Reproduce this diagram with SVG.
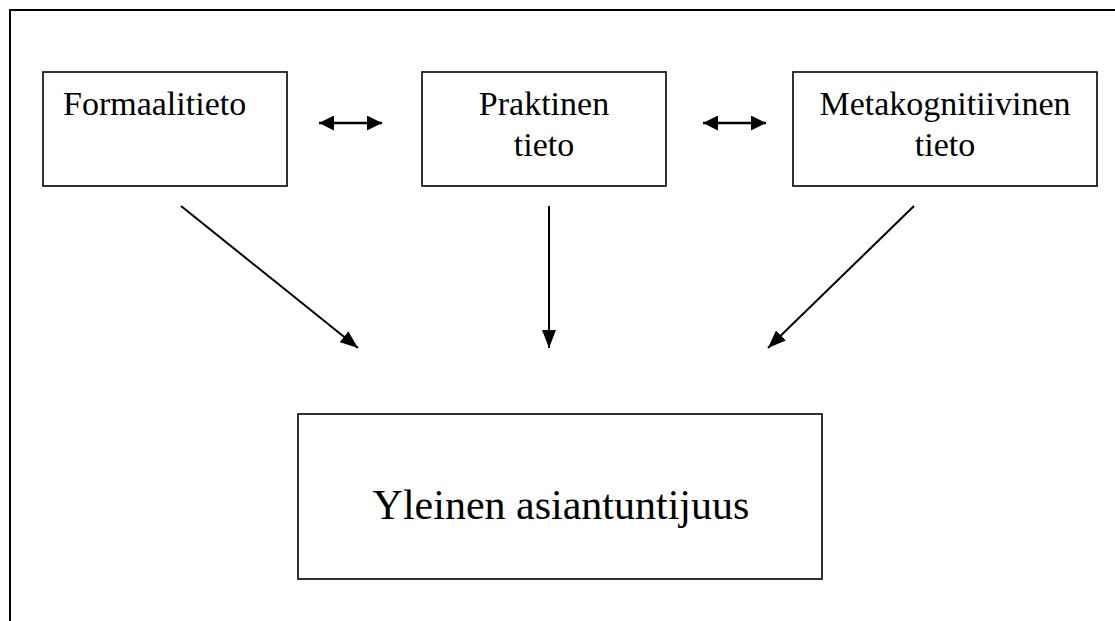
<svg xmlns="http://www.w3.org/2000/svg" width="1115" height="621" viewBox="0 0 1115 621">
  <style>
    .box { fill: #ffffff; stroke: #000000; stroke-width: 1.6; }
    .lbl { font-family: "Liberation Serif", "Times New Roman", serif; font-size: 34px; fill: #000000; }
    .big { font-family: "Liberation Serif", "Times New Roman", serif; font-size: 42px; fill: #000000; }
    .conn { stroke: #000000; stroke-width: 2; fill: none; }
    .dbl { stroke: #000000; stroke-width: 2.5; fill: none; }
  </style>
  <defs>
    <marker id="head" markerUnits="userSpaceOnUse" markerWidth="18" markerHeight="14" refX="18" refY="7" orient="auto-start-reverse">
      <path d="M0,0 L18,7 L0,14 z" fill="#000000"/>
    </marker>
    <marker id="small" markerUnits="userSpaceOnUse" markerWidth="15" markerHeight="15" refX="15" refY="7.5" orient="auto-start-reverse">
      <path d="M0,0 L15,7.5 L0,15 z" fill="#000000"/>
    </marker>
  </defs>
  <rect width="1115" height="621" fill="#ffffff"/>
  <path d="M10,621 V10 H1115" fill="none" stroke="#000000" stroke-width="2"/>

  <g id="formaalitieto">
    <rect class="box" x="43" y="72" width="244" height="114"/>
    <text class="lbl" x="63" y="115">Formaalitieto</text>
  </g>
  <g id="praktinen">
    <rect class="box" x="422" y="72" width="244" height="114"/>
    <text class="lbl" x="544" y="115" text-anchor="middle">Praktinen</text>
    <text class="lbl" x="544" y="156" text-anchor="middle">tieto</text>
  </g>
  <g id="metakognitiivinen">
    <rect class="box" x="793" y="72" width="304" height="114"/>
    <text class="lbl" x="945" y="115" text-anchor="middle">Metakognitiivinen</text>
    <text class="lbl" x="945" y="156" text-anchor="middle">tieto</text>
  </g>
  <g id="asiantuntijuus">
    <rect class="box" x="298" y="414" width="524" height="165"/>
    <text class="big" x="561" y="519" text-anchor="middle">Yleinen asiantuntijuus</text>
  </g>

  <g id="connectors">
    <line class="dbl" x1="319" y1="123" x2="382" y2="123" marker-start="url(#small)" marker-end="url(#small)"/>
    <line class="dbl" x1="703" y1="123" x2="766" y2="123" marker-start="url(#small)" marker-end="url(#small)"/>
    <line class="conn" x1="181" y1="206" x2="358" y2="348" marker-end="url(#head)"/>
    <line class="conn" x1="549" y1="206" x2="549" y2="348" marker-end="url(#head)"/>
    <line class="conn" x1="914" y1="206" x2="768" y2="348" marker-end="url(#head)"/>
  </g>
</svg>
